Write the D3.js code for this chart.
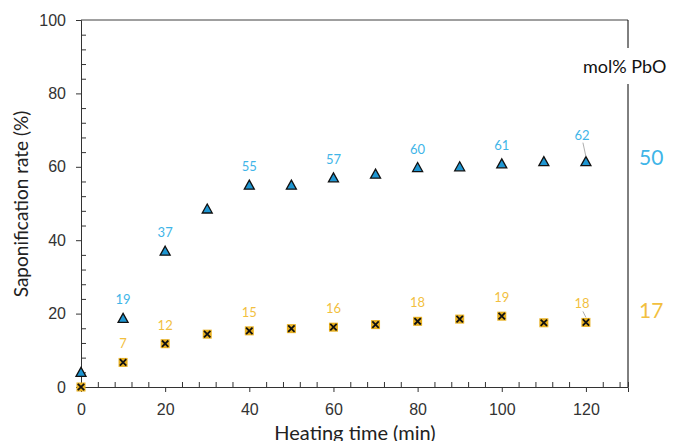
<!DOCTYPE html>
<html lang="en">
<head>
<meta charset="UTF-8">
<title>Saponification rate vs heating time</title>
<script src="https://d3js.org/d3.v7.min.js"></script>
<style>
  body { margin: 0; background: #fff; }
  svg { display: block; font-family: Lato, "Open Sans", sans-serif; }
</style>
</head>
<body>
<svg id="chart" width="673" height="441"></svg>
<script>
// heating time (min)
const times = [0, 10, 20, 30, 40, 50, 60, 70, 80, 90, 100, 110, 120];
// saponification rate (%) for each glass
const pbo50 = [4, 18.7, 37, 48.5, 55, 55, 57, 58, 59.8, 60, 60.8, 61.4, 61.4];
const pbo17 = [0, 6.7, 11.8, 14.4, 15.3, 15.9, 16.3, 17, 17.9, 18.5, 19.3, 17.5, 17.6];
// annotated values (time, label)
const labels50 = [[10, "19"], [20, "37"], [40, "55"], [60, "57"], [80, "60"], [100, "61"], [120, "62"]];
const labels17 = [[10, "7"], [20, "12"], [40, "15"], [60, "16"], [80, "18"], [100, "19"], [120, "18"]];
const xTicks = [0, 20, 40, 60, 80, 100, 120];
const yTicks = [0, 20, 40, 60, 80, 100];

const blue = "#1e96d2", blueText = "#3fb5e8", yellow = "#f5c030", yellowText = "#f2bf3f";

const svg = d3.select("#chart");
const x = d3.scaleLinear().domain([0, 130]).range([81, 628]);
const y = d3.scaleLinear().domain([0, 100]).range([387, 20]);

// frame: top and right lines
svg.append("line").attr("x1", 81).attr("x2", 628).attr("y1", 20).attr("y2", 20)
  .attr("stroke", "#404040").attr("stroke-width", 1);
svg.append("line").attr("x1", 628).attr("x2", 628).attr("y1", 20).attr("y2", 387)
  .attr("stroke", "#000").attr("stroke-width", 1);

// y axis
svg.append("g").attr("transform", "translate(81,0)")
  .call(d3.axisLeft(y).tickValues(yTicks).tickSize(5).tickPadding(10));
svg.append("g").attr("transform", "translate(81,0)")
  .call(d3.axisRight(y).tickValues(d3.range(0, 101, 4).filter(v => v % 20)).tickSize(5).tickFormat(""))
  .call(g => g.select(".domain").remove());

// x axis
svg.append("g").attr("transform", "translate(0,387)")
  .call(d3.axisBottom(x).tickValues(xTicks).tickSize(5).tickPadding(12));
svg.append("g").attr("transform", "translate(0,387)")
  .call(d3.axisTop(x).tickValues(d3.range(0, 131, 4).filter(v => v % 20).concat([130])).tickSize(5).tickFormat(""))
  .call(g => g.select(".domain").remove());

svg.selectAll(".tick text").attr("font-size", 16).attr("fill", "#333");
svg.selectAll(".domain, .tick line").attr("stroke", "#333");

// axis titles
svg.append("text").attr("x", 355).attr("y", 440).attr("text-anchor", "middle")
  .attr("font-size", 20).attr("fill", "#222").text("Heating time (min)");
svg.append("text").attr("transform", "translate(28,204) rotate(-90)").attr("text-anchor", "middle")
  .attr("font-size", 19).attr("fill", "#222").text("Saponification rate (%)");

// 17 mol% PbO: yellow square with a black cross
const g17 = svg.append("g").selectAll("g").data(times.map((t, i) => [t, pbo17[i]])).join("g")
  .attr("transform", d => `translate(${x(d[0])},${y(d[1])})`);
g17.append("rect").attr("x", -4.5).attr("y", -4.5).attr("width", 9).attr("height", 9)
  .attr("fill", "#e8b020");
g17.append("path").attr("d", "M-3.2,-3.2L3.2,3.2M-3.2,3.2L3.2,-3.2").attr("stroke", "#111").attr("stroke-width", 1.8);

// 50 mol% PbO: blue triangles
svg.append("g").selectAll("path").data(times.map((t, i) => [t, pbo50[i]])).join("path")
  .attr("transform", d => `translate(${x(d[0])},${y(d[1])})`)
  .attr("d", "M0,-5L5,4L-5,4Z")
  .attr("fill", blue).attr("stroke", "#111").attr("stroke-width", 1.3);

// value labels
function addLabels(list, series, color, lift) {
  list.forEach(([t, txt]) => {
    const i = times.indexOf(t);
    const px = x(t), py = y(series[i]);
    const far = t === 120;
    const dy = far && series === pbo50 ? lift + 8 : lift;
    const lx = far ? px - 4 : px;
    svg.append("text").attr("x", lx).attr("y", py - dy).attr("text-anchor", "middle")
      .attr("font-size", 13).attr("fill", color).text(txt);
    if (far) {
      svg.append("line").attr("x1", lx + 1).attr("y1", py - dy + 3).attr("x2", px).attr("y2", py - 5)
        .attr("stroke", "#999").attr("stroke-width", 0.8);
    }
  });
}
addLabels(labels50, pbo50, blueText, 14);
addLabels(labels17, pbo17, yellowText, 14);

// series legend on the right
svg.append("rect").attr("x", 578).attr("y", 48).attr("width", 95).attr("height", 36).attr("fill", "#fff");
svg.append("text").attr("x", 583).attr("y", 73).attr("font-size", 18).attr("fill", "#111").text("mol% PbO");
svg.append("text").attr("x", 639).attr("y", 165).attr("font-size", 21).attr("fill", blueText).text("50");
svg.append("text").attr("x", 639).attr("y", 318).attr("font-size", 21).attr("fill", yellowText).text("17");
</script>
</body>
</html>
